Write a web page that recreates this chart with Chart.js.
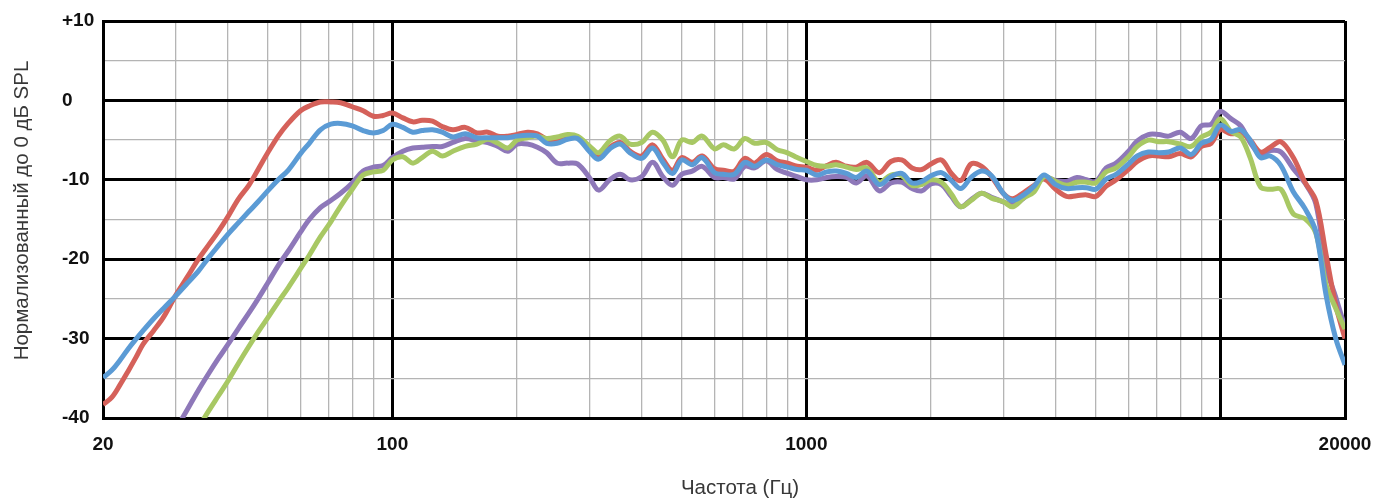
<!DOCTYPE html>
<html>
<head>
<meta charset="utf-8">
<script src="https://cdn.jsdelivr.net/npm/chart.js@4/dist/chart.umd.min.js"></script>
<style>
  body { margin: 0; background: #fff; }
  #wrap { width: 1377px; height: 498px; }
</style>
</head>
<body>
<div id="wrap"><canvas id="fr"></canvas></div>
<script>
// frequencies (Hz), shared by all curves
const freqs = [20,21,22,23,24,25,26.5,28,30,32,34,36,38,40,42.5,45,47.5,50,53,56,60,63,67,71,75,80,85,90,95,
  100,106,112,118,125,132,140,150,160,170,180,190,200,212,224,236,250,265,280,300,315,335,355,375,400,425,450,475,500,530,560,600,630,670,710,750,800,850,900,950,
  1000,1060,1120,1180,1250,1320,1400,1500,1600,1700,1800,1900,2000,2120,2240,2360,2500,2650,2800,3000,3150,3350,3550,3750,4000,4250,4500,4750,5000,5300,5600,6000,6300,6700,7100,7500,8000,8500,9000,9500,
  10000,10600,11200,11800,12500,13200,14000,15000,16000,17000,18000,19000,20000];

// SPL, dB
const redVals = [-38.3,-37.4,-35.8,-34.1,-32.4,-30.7,-29.0,-27.3,-24.5,-22.2,-20.0,-18.2,-16.5,-14.7,-12.4,-10.7,-8.6,-6.6,-4.5,-2.9,-1.3,-0.7,-0.2,-0.2,-0.3,-0.8,-1.3,-2.0,-1.9,
  -1.6,-2.2,-2.7,-2.5,-2.6,-3.3,-3.7,-3.4,-4.1,-4.0,-4.5,-4.5,-4.3,-4.0,-4.2,-4.9,-5.1,-4.7,-4.7,-6.3,-7.2,-5.9,-5.3,-6.4,-7.0,-5.6,-7.4,-8.8,-7.2,-7.8,-7.0,-8.6,-8.8,-8.9,-7.3,-7.9,-6.8,-7.6,-7.9,-8.3,
  -8.4,-8.8,-8.2,-7.8,-8.3,-8.4,-7.8,-9.1,-7.7,-7.5,-8.5,-8.7,-8.0,-7.5,-9.2,-10.1,-8.0,-8.3,-9.6,-11.8,-12.4,-11.6,-10.7,-9.9,-11.2,-12.1,-12.0,-11.9,-12.1,-10.8,-10.0,-8.7,-7.7,-7.0,-7.0,-7.1,-6.7,-7.1,-5.8,-5.4,
  -3.7,-4.2,-4.1,-5.0,-6.5,-5.9,-5.2,-7.2,-10.3,-12.6,-19.4,-25.8,-30.0];

const blueVals = [-34.9,-34.0,-32.7,-31.3,-30.1,-29.0,-27.5,-26.2,-24.6,-23.0,-21.5,-19.8,-18.3,-16.9,-15.4,-14.0,-12.7,-11.4,-10.0,-8.8,-6.7,-5.4,-3.7,-3.0,-2.9,-3.2,-3.8,-4.1,-3.8,
  -3.0,-3.4,-4.0,-3.8,-3.7,-4.0,-4.6,-4.2,-4.7,-4.7,-4.7,-4.7,-4.5,-4.4,-4.5,-5.4,-5.4,-4.9,-4.8,-6.5,-7.4,-6.1,-5.5,-6.6,-7.3,-6.0,-7.8,-9.2,-7.5,-8.1,-7.2,-9.1,-9.3,-9.3,-7.8,-8.3,-7.5,-8.1,-8.4,-8.7,
  -8.8,-9.4,-9.0,-8.9,-9.2,-9.7,-8.9,-10.6,-9.6,-9.2,-10.4,-10.2,-9.5,-9.1,-10.1,-11.1,-9.7,-8.9,-9.5,-11.8,-12.6,-11.9,-10.8,-9.4,-10.6,-11.1,-11.0,-11.0,-11.2,-9.9,-9.3,-8.0,-7.0,-6.5,-6.6,-6.5,-6.0,-6.8,-5.4,-4.9,
  -3.1,-3.9,-3.7,-5.0,-7.2,-7.0,-8.2,-11.5,-13.6,-16.5,-24.5,-30.0,-33.3];

const purpleVals = [null,null,null,null,null,null,null,null,-41.4,-38.9,-36.5,-34.4,-32.5,-30.8,-28.7,-26.8,-24.9,-23.0,-20.8,-19.0,-16.6,-15.0,-13.5,-12.6,-11.7,-10.4,-8.9,-8.4,-8.2,
  -7.2,-6.4,-6.0,-5.9,-5.8,-5.8,-5.3,-4.8,-5.1,-5.3,-5.8,-6.4,-5.5,-5.5,-5.9,-6.6,-7.9,-7.9,-8.0,-9.8,-11.3,-10.0,-9.3,-10.0,-9.6,-7.8,-9.6,-10.7,-9.3,-8.9,-8.3,-9.7,-9.7,-9.9,-8.3,-8.5,-7.6,-8.7,-9.2,-9.6,
  -10.0,-10.0,-9.7,-9.6,-9.7,-10.4,-9.5,-11.4,-10.4,-10.3,-11.1,-11.4,-10.5,-10.6,-12.1,-13.4,-12.5,-11.7,-12.2,-12.8,-13.1,-12.3,-10.8,-9.7,-10.1,-10.2,-9.7,-10.0,-10.2,-8.5,-7.9,-6.4,-5.1,-4.3,-4.3,-4.5,-4.0,-4.8,-3.2,-3.0,
  -1.4,-2.3,-3.2,-5.3,-6.8,-6.3,-6.5,-8.6,-10.4,-13.0,-21.0,-24.8,-28.6];

const greenVals = [null,null,null,null,null,null,null,null,null,null,-41.2,-39.1,-37.2,-35.4,-33.1,-31.0,-29.1,-27.4,-25.4,-23.6,-21.2,-19.5,-17.2,-15.3,-13.3,-11.2,-9.4,-9.0,-8.8,
  -7.5,-7.1,-7.9,-7.2,-6.4,-7.0,-6.4,-5.8,-5.5,-4.9,-5.4,-6.0,-5.0,-4.7,-4.5,-4.8,-4.6,-4.3,-4.5,-5.8,-6.6,-5.1,-4.5,-5.5,-5.3,-4.0,-5.0,-7.1,-5.0,-5.3,-4.5,-6.1,-5.6,-6.1,-4.8,-5.4,-5.3,-6.2,-6.6,-7.2,
  -7.7,-8.2,-8.3,-8.1,-8.4,-8.7,-8.5,-10.3,-9.4,-9.5,-10.7,-10.6,-10.0,-10.3,-11.8,-13.4,-12.6,-11.7,-12.3,-12.8,-13.4,-12.3,-11.5,-9.6,-10.2,-10.7,-10.3,-10.3,-10.4,-9.0,-8.5,-7.1,-5.8,-5.0,-5.2,-5.2,-5.5,-5.8,-4.6,-4.0,
  -2.3,-3.9,-4.6,-7.2,-10.9,-11.2,-11.2,-14.3,-14.9,-16.7,-23.2,-26.2,-28.8];

// grid ticks
const xTicks = [20,30,40,50,60,70,80,90,100,200,300,400,500,600,700,800,900,1000,2000,3000,4000,5000,6000,7000,8000,9000,10000,20000];
const xLabels = [20, 100, 1000, 20000];
const xMajor = [20, 100, 1000, 10000, 20000];

const xTitle = 'Частота (Гц)';
const yTitle = 'Нормализованный до 0 дБ SPL';

function pts(vals) {
  return freqs.map((f, i) => ({ x: f, y: vals[i] }));
}

function series(vals, color) {
  return {
    data: pts(vals),
    borderColor: color,
    borderWidth: 5,
    pointRadius: 0,
    tension: 0.35,
    fill: false,
    spanGaps: false
  };
}

/* axis titles drawn by hand so they sit where the original has them */
const axisTitles = {
  id: 'axisTitles',
  afterDraw(chart) {
    const ctx = chart.ctx;
    const a = chart.chartArea;
    ctx.save();
    ctx.fillStyle = '#383838';
    ctx.font = '20.5px "Liberation Sans", Arial, sans-serif';
    ctx.textAlign = 'center';
    ctx.textBaseline = 'middle';
    ctx.fillText(xTitle, (a.left + a.right) / 2 + 16, 488);
    ctx.translate(22, (a.top + a.bottom) / 2 - 9);
    ctx.rotate(-Math.PI / 2);
    ctx.fillText(yTitle, 0, 0);
    ctx.restore();
  }
};

const tickFont = { family: '"Liberation Sans", Arial, sans-serif', size: 19, weight: 'bold' };

new Chart(document.getElementById('fr').getContext('2d'), {
  type: 'line',
  data: {
    datasets: [
      series(blueVals, '#5b9bd5'),
      series(greenVals, '#a8c864'),
      series(redVals, '#d5615a'),
      series(purpleVals, '#8e78b9')
    ]
  },
  options: {
    responsive: true,
    maintainAspectRatio: false,
    animation: false,
    layout: { padding: { left: 62, right: 32, top: 21, bottom: 0 } },
    plugins: {
      legend: { display: false },
      tooltip: { enabled: false }
    },
    scales: {
      x: {
        type: 'logarithmic',
        min: 20,
        max: 20000,
        afterBuildTicks: (scale) => {
          scale.ticks = xTicks.map(v => ({ value: v }));
        },
        afterFit: (scale) => {
          scale.height = 80;
          scale.paddingLeft = 0;
          scale.paddingRight = 0;
        },
        border: { color: '#000', width: 3 },
        grid: {
          drawTicks: false,
          color: (c) => xMajor.includes(c.tick.value) ? '#000' : '#b4b4b4',
          lineWidth: (c) => xMajor.includes(c.tick.value) ? 3 : 1.3
        },
        ticks: {
          autoSkip: false,
          maxRotation: 0,
          padding: 15,
          color: '#111',
          font: tickFont,
          callback: (v) => xLabels.includes(v) ? String(v) : ''
        }
      },
      y: {
        min: -40,
        max: 10,
        afterBuildTicks: (scale) => {
          const t = [];
          for (let v = -40; v <= 10; v += 5) t.push({ value: v });
          scale.ticks = t;
        },
        afterFit: (scale) => {
          scale.width = 41;
          scale.paddingTop = 0;
          scale.paddingBottom = 0;
        },
        border: { color: '#000', width: 3 },
        grid: {
          drawTicks: false,
          color: (c) => c.tick.value % 10 === 0 ? '#000' : '#b4b4b4',
          lineWidth: (c) => c.tick.value % 10 === 0 ? 3 : 1.3
        },
        ticks: {
          crossAlign: 'far',
          padding: 0,
          color: '#111',
          font: tickFont,
          callback: (v) => v % 10 !== 0 ? '' : (v > 0 ? '+' + v : String(v))
        }
      }
    }
  },
  plugins: [axisTitles]
});
</script>
</body>
</html>
